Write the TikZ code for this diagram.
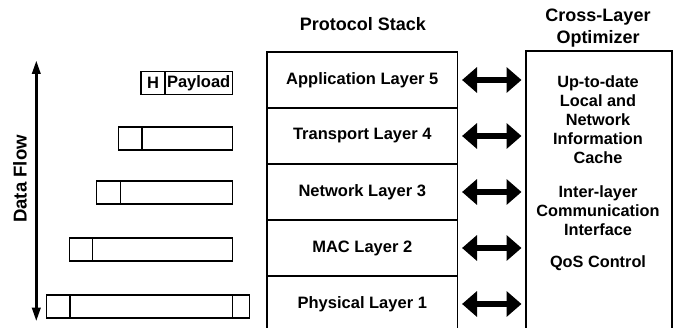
\documentclass[tikz,border=0pt]{standalone}
\usepackage{fontspec}
\setmainfont{Liberation Sans}
\usetikzlibrary{arrows.meta}
\begin{document}
\begin{tikzpicture}[x=1pt,y=-1pt,
  layerbox/.style={draw, line width=1.3pt, minimum width=190.5pt, minimum height=56pt, inner sep=0pt, outer sep=0pt, font=\fontsize{16.5}{19}\selectfont\bfseries},
  optbox/.style={draw, line width=1.3pt, minimum width=146pt, minimum height=300pt, anchor=north, inner sep=0pt, outer sep=0pt},
  opttext/.style={align=center, inner sep=0pt, font=\fontsize{16.3}{19}\selectfont\bfseries},
  title/.style={align=center, inner sep=0pt, font=\fontsize{18}{22}\selectfont\bfseries},
  link/.style={line width=6pt, {Triangle[length=15pt,width=25pt]}-{Triangle[length=15pt,width=25pt]}, shorten >=4.5pt, shorten <=4.5pt},
  flow/.style={line width=3.3pt, {Triangle[length=14pt,width=8pt]}-{Triangle[length=14pt,width=8pt]}},
  pkt/.style={draw, line width=1.2pt, minimum height=23pt, inner sep=0pt, outer sep=0pt, anchor=north west, font=\fontsize{16.5}{19}\selectfont\bfseries}
]
\useasboundingbox (0,0) rectangle (674,328);
\clip (0,0) rectangle (674,328);

% titles
\node[title] (stacktitle) at (363,24) {Protocol Stack};
\node[title] (opttitle) at (598,28) {Cross-Layer\\Optimizer};

% protocol stack
\node[layerbox] (l5) at (362.3,80) {Application Layer 5};
\node[layerbox] (l4) at (362.3,136) {Transport Layer 4};
\node[layerbox] (l3) at (362.3,192) {Network Layer 3};
\node[layerbox] (l2) at (362.3,248) {MAC Layer 2};
\node[layerbox] (l1) at (362.3,304) {Physical Layer 1};

% optimizer
\node[optbox] (opt) at (599,51) {};
\node[opttext] (cache) at (598,120) {Up-to-date\\Local and\\Network\\Information\\Cache};
\node[opttext] (iface) at (598,211) {Inter-layer\\Communication\\Interface};
\node[opttext] (qos) at (598,263) {QoS Control};

% links
\foreach \l in {l5,l4,l3,l2,l1}{
  \draw[link] (\l.east) -- (\l.east -| opt.west);
}

% data flow
\coordinate (ftop) at (36.3,60);
\coordinate (fbot) at (36.3,321.7);
\draw[flow] (ftop) -- (fbot);
\node[title, rotate=90, font=\fontsize{18.6}{22}\selectfont\bfseries] (flowlabel) at (20,179) {Data Flow};

% packets
\node[pkt, minimum width=24pt] (h1) at (141,71.5) {H};
\node[pkt, minimum width=67.3pt] (b1) at (165,71.5) {Payload};

\node[pkt, minimum width=23.7pt] (h2) at (118.3,127) {};
\node[pkt, minimum width=90.3pt] (b2) at (142,127) {};

\node[pkt, minimum width=24pt] (h3) at (96.7,181) {};
\node[pkt, minimum width=111.8pt] (b3) at (120.7,181) {};

\node[pkt, minimum width=23pt] (h4) at (69.3,238) {};
\node[pkt, minimum width=140.2pt] (b4) at (92.3,238) {};

\node[pkt, minimum width=23.3pt] (h5) at (46.7,295) {};
\node[pkt, minimum width=162.5pt] (b5) at (70,295) {};
\node[pkt, minimum width=17.3pt] (t5) at (232.5,295) {};
\end{tikzpicture}
\end{document}
